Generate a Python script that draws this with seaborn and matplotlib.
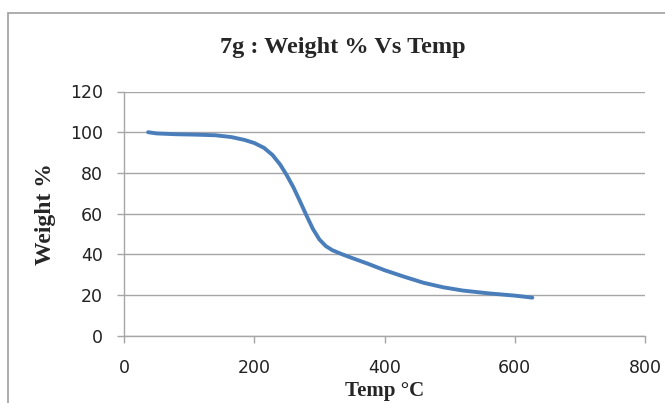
import matplotlib
matplotlib.use("Agg")
import matplotlib.pyplot as plt
import seaborn as sns
import pandas as pd
from matplotlib.patches import Rectangle

temp = [37, 50, 80, 110, 140, 165, 185, 200, 215, 228, 240, 250, 260, 270, 280, 290, 300, 310, 320, 335,
        350, 375, 400, 430, 460, 490, 520, 560, 600, 627]
weight = [100, 99.4, 99.0, 98.8, 98.5, 97.6, 96.2, 94.7, 92.3, 88.8, 84.0, 78.8, 73.0, 66.2, 59.2, 52.5, 47.3,
          44.0, 42.0, 40.0, 38.2, 35.3, 32.2, 29.0, 26.0, 23.8, 22.2, 20.8, 19.7, 18.7]
x_ticks = [0, 200, 400, 600, 800]
y_ticks = [0, 20, 40, 60, 80, 100, 120]

df = pd.DataFrame({"Temp": temp, "Weight": weight})

sns.set_theme(style="white")
fig = plt.figure(figsize=(6.65, 4.03), dpi=100)
ax = fig.add_axes([124/665, 1-335.7/403, (645-124)/665, (335.7-91.5)/403])

sns.lineplot(data=df, x="Temp", y="Weight", ax=ax, color="#4a7ebb", linewidth=2.8, sort=False,
             solid_joinstyle="round", solid_capstyle="round")

ax.set_xlim(0, 800)
ax.set_ylim(0, 120)
ax.set_xticks(x_ticks)
ax.set_yticks(y_ticks)
ax.set_xticklabels([str(v) for v in x_ticks], fontsize=12.5, family="DejaVu Sans", color="#222222")
ax.set_yticklabels([str(v) for v in y_ticks], fontsize=12.5, family="DejaVu Sans", color="#222222")
ax.grid(axis="y", color="#a6a6a6", linewidth=1.0)
ax.grid(axis="x", visible=False)
for s in ["top", "right"]:
    ax.spines[s].set_visible(False)
for s in ["left", "bottom"]:
    ax.spines[s].set_color("#a6a6a6")
    ax.spines[s].set_linewidth(1.0)
ax.tick_params(axis="both", which="major", length=5, width=1.0, color="#a6a6a6", direction="out",
               left=True, bottom=True)
ax.tick_params(axis="y", pad=10)
ax.tick_params(axis="x", pad=12)

ax.set_xlabel("Temp °C", fontsize=15, fontweight="bold", family="Liberation Serif", labelpad=3)
ax.set_ylabel("Weight %", fontsize=17, fontweight="bold", family="Liberation Serif", labelpad=10)
fig.text(0.5 + 10/665, 1-47/403, "7g : Weight % Vs Temp", ha="center", va="center",
         fontsize=17.5, fontweight="bold", family="Liberation Serif")

fig.patches.append(Rectangle((8/665, -0.02), 1.0, (403-13)/403 + 0.02,
                             transform=fig.transFigure, fill=False, edgecolor="#a0a0a0", linewidth=1.2))

fig.savefig("out.png", dpi=100)
